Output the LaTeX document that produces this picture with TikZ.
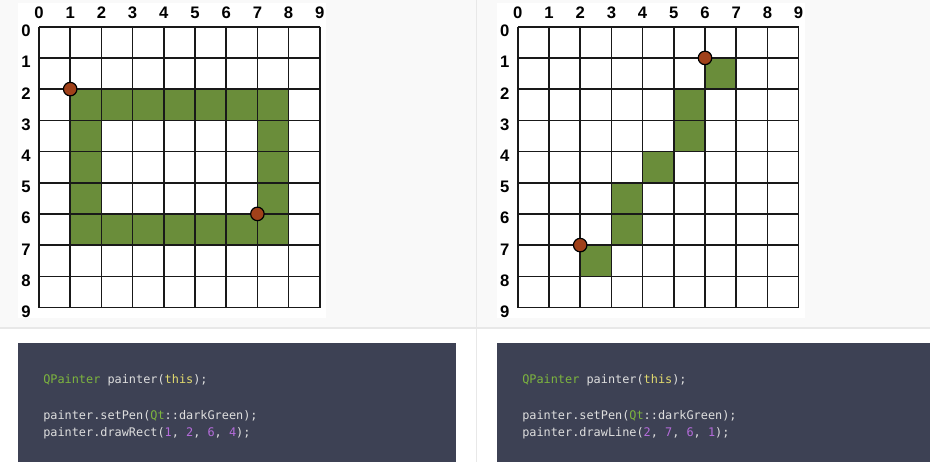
\documentclass[tikz,border=0pt]{standalone}
\usepackage{fontspec}
\setmainfont{Liberation Sans}
\newfontfamily\codefont{DejaVu Sans Mono}
\definecolor{pagebg}{HTML}{F9F9F9}
\definecolor{sepline}{HTML}{E8E8E8}
\definecolor{penGreen}{HTML}{6A8D3A}
\definecolor{dotBrown}{HTML}{A0411A}
\definecolor{codebg}{HTML}{3D4154}
\definecolor{codetxt}{HTML}{DEDEDE}
\definecolor{kwgreen}{HTML}{7DB53E}
\definecolor{kwyellow}{HTML}{E2DA6E}
\definecolor{numpurple}{HTML}{B56CDB}
\tikzset{
  lbl/.style={font=\fontsize{12.5pt}{13pt}\selectfont\bfseries, inner sep=0pt, anchor=base},
  gridline/.style={line width=1.2pt, black!90},
  cellfill/.style={fill=penGreen},
  pdot/.style={circle, fill=dotBrown, draw=black, line width=0.9pt, minimum size=13.5*0.75pt, inner sep=0pt},
  codeline/.style={font=\codefont\fontsize{8.9pt}{10pt}\selectfont, text=codetxt, anchor=base west, inner sep=0pt},
  codebox/.style={fill=codebg, draw=none}
}
\newcommand{\kw}[1]{\textcolor{kwgreen}{#1}}
\newcommand{\ky}[1]{\textcolor{kwyellow}{#1}}
\newcommand{\kn}[1]{\textcolor{numpurple}{#1}}
\begin{document}
\begin{tikzpicture}[x=0.75pt,y=-0.75pt]
\useasboundingbox (0,0) rectangle (930,462);
% backgrounds
\fill[pagebg] (0,0) rectangle (930,328);
\fill[white] (0,328) rectangle (930,462);
\draw[sepline, line width=0.8pt] (0,328) -- (930,328);
\draw[sepline, line width=0.8pt] (476.5,0) -- (476.5,462);
\fill[white] (18,3) rectangle (326,318);
\fill[white] (497,3) rectangle (805,318);

\def\cs{31.2}
% ---------- left grid ----------
\begin{scope}[shift={(39,26.7)}]
  \foreach \c/\r in {1/2,2/2,3/2,4/2,5/2,6/2,7/2,1/6,2/6,3/6,4/6,5/6,6/6,7/6,1/3,1/4,1/5,7/3,7/4,7/5}
    \fill[cellfill] (\c*\cs,\r*\cs) rectangle ++(\cs,\cs);
  \foreach \i in {0,...,9} {
    \draw[gridline] (\i*\cs,0) -- (\i*\cs,9*\cs);
    \draw[gridline] (0,\i*\cs) -- (9*\cs,\i*\cs);
    \node[lbl] (lc\i) at (\i*\cs,-8.5) {\i};
    \node[lbl] (lr\i) at (-13,\i*\cs+10) {\i};
  }
  \node[pdot] (la) at (1*\cs,2*\cs) {};
  \node[pdot] (lb) at (7*\cs,6*\cs) {};
\end{scope}
% ---------- right grid ----------
\begin{scope}[shift={(517.8,26.7)}]
  \foreach \c/\r in {6/1,5/2,5/3,4/4,3/5,3/6,2/7}
    \fill[cellfill] (\c*\cs,\r*\cs) rectangle ++(\cs,\cs);
  \foreach \i in {0,...,9} {
    \draw[gridline] (\i*\cs,0) -- (\i*\cs,9*\cs);
    \draw[gridline] (0,\i*\cs) -- (9*\cs,\i*\cs);
    \node[lbl] (rc\i) at (\i*\cs,-8.5) {\i};
    \node[lbl] (rr\i) at (-13,\i*\cs+10) {\i};
  }
  \node[pdot] (ra) at (6*\cs,1*\cs) {};
  \node[pdot] (rb) at (2*\cs,7*\cs) {};
\end{scope}
% ---------- code boxes ----------
\fill[codebox] (18,343) rectangle (456,462);
\fill[codebox] (497,343) rectangle (930,462);
\node[codeline] (lc1) at (43,383) {\kw{QPainter} painter(\ky{this});};
\node[codeline] (lc2) at (43,419) {painter.setPen(\kw{Qt}::darkGreen);};
\node[codeline] (lc3) at (43,436.5) {painter.drawRect(\kn{1}, \kn{2}, \kn{6}, \kn{4});};
\node[codeline] (rc1) at (522,383) {\kw{QPainter} painter(\ky{this});};
\node[codeline] (rc2) at (522,419) {painter.setPen(\kw{Qt}::darkGreen);};
\node[codeline] (rc3) at (522,436.5) {painter.drawLine(\kn{2}, \kn{7}, \kn{6}, \kn{1});};
\end{tikzpicture}
\end{document}
